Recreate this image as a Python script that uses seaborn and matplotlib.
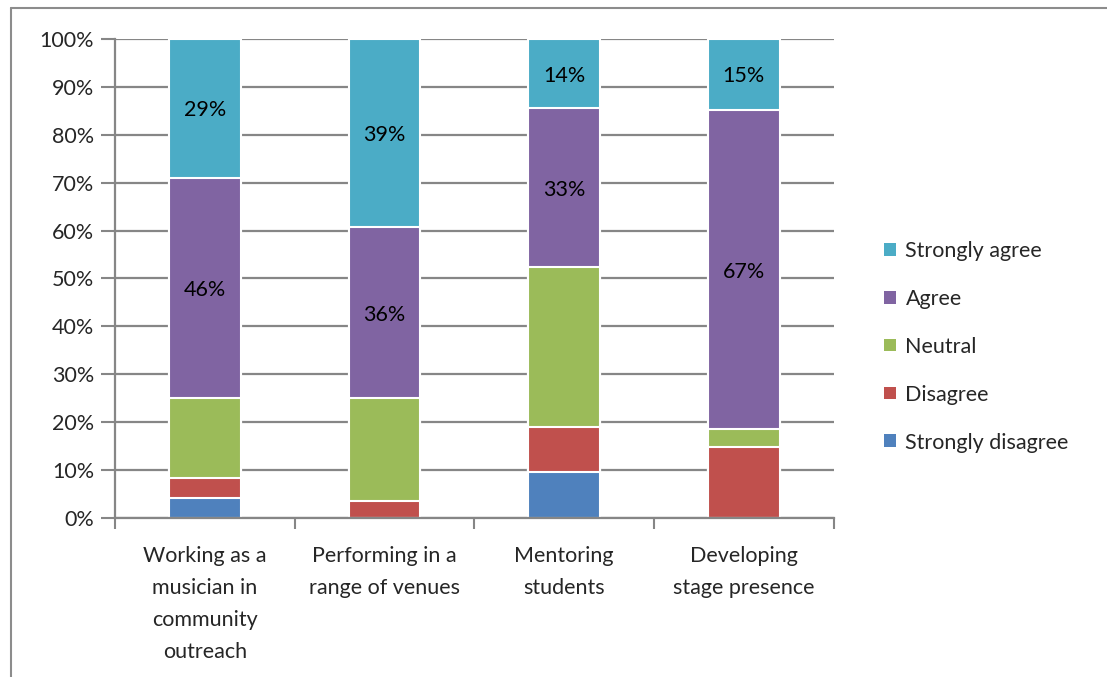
import matplotlib
matplotlib.use('Agg')
import numpy as np
import pandas as pd
import matplotlib.pyplot as plt
import seaborn as sns
from matplotlib.patches import Patch
from matplotlib.lines import Line2D
from matplotlib.ticker import PercentFormatter

# 数据（百分比）
categories = ['Working as a\nmusician in\ncommunity\noutreach',
              'Performing in a\nrange of venues',
              'Mentoring\nstudents',
              'Developing\nstage presence']
strongly_disagree = [4.2, 0.0, 9.5, 0.0]
disagree = [4.2, 3.6, 9.5, 14.8]
neutral = [16.7, 21.4, 33.3, 3.7]
agree = [45.8, 35.7, 33.3, 66.7]
strongly_agree = [29.2, 39.3, 14.3, 14.8]

series_names = ['Strongly disagree', 'Disagree', 'Neutral', 'Agree', 'Strongly agree']
series_vals = [strongly_disagree, disagree, neutral, agree, strongly_agree]
colors = ['#4F81BD', '#C0504D', '#9BBB59', '#8064A2', '#4BACC6']
labelled = ['Agree', 'Strongly agree']

sns.set_style('white')
plt.rcParams['font.family'] = ['Lato', 'DejaVu Sans']
fs = 15.5

df = pd.DataFrame(dict(zip(series_names, series_vals)), index=categories)
cum = df.cumsum(axis=1)

fig = plt.figure(figsize=(11.07, 6.77), dpi=100)
ax = fig.add_axes([0.1039, 0.2349, 0.6492, 0.7075])

grid_c = '#868686'
for v in range(0, 101, 10):
    ax.axhline(v, color=grid_c, lw=1.6, zorder=0)

# 从上往下画累计柱，后画的覆盖下面
for name, col in reversed(list(zip(series_names, colors))):
    sns.barplot(x=list(range(len(categories))), y=cum[name].values, color=col,
                saturation=1, width=0.4, edgecolor='white', linewidth=1.5,
                ax=ax, zorder=2, native_scale=True)

# 数据标签
for name in labelled:
    mid = cum[name] - df[name] / 2
    for i, (m, v) in enumerate(zip(mid, df[name])):
        ax.text(i, m, f'{v:.0f}%', ha='center', va='center_baseline', fontsize=fs,
                color='black', zorder=3)

ax.set_xlim(-0.5, len(categories) - 0.5)
ax.set_ylim(0, 100)
ax.yaxis.set_major_formatter(PercentFormatter(decimals=0))
ax.set_yticks(range(0, 101, 10))
ax.set_xticks(range(len(categories)))
ax.set_xticklabels(categories, fontsize=fs, linespacing=1.75)
ax.set_xticks(np.arange(-0.5, len(categories), 1), minor=True)
ax.tick_params(axis='x', which='major', length=0, pad=20)
ax.tick_params(axis='x', which='minor', length=8, width=1.5, color=grid_c, direction='out', bottom=True)
ax.tick_params(axis='y', length=10, width=1.5, color=grid_c, direction='out', left=True, labelsize=fs, pad=5)
ax.set_xlabel('')
ax.set_ylabel('')
for s in ['top', 'right']:
    ax.spines[s].set_visible(False)
for s in ['left', 'bottom']:
    ax.spines[s].set_color(grid_c)
    ax.spines[s].set_linewidth(1.6)

handles = [Patch(facecolor=c, edgecolor='none') for c in reversed(colors)]
fig.legend(handles, list(reversed(series_names)), loc='center left',
           bbox_to_anchor=(0.781, 0.488), frameon=False, fontsize=fs,
           handlelength=0.55, handleheight=0.55, handletextpad=0.45, labelspacing=1.3)

# 外框
fig.add_artist(Line2D([0.0099, 1.0], [0.988, 0.988], color='#8c8c8c', lw=1.5, transform=fig.transFigure))
fig.add_artist(Line2D([0.0099, 0.0099], [0.0, 0.988], color='#8c8c8c', lw=1.5, transform=fig.transFigure))

fig.savefig('out.png', dpi=100)
